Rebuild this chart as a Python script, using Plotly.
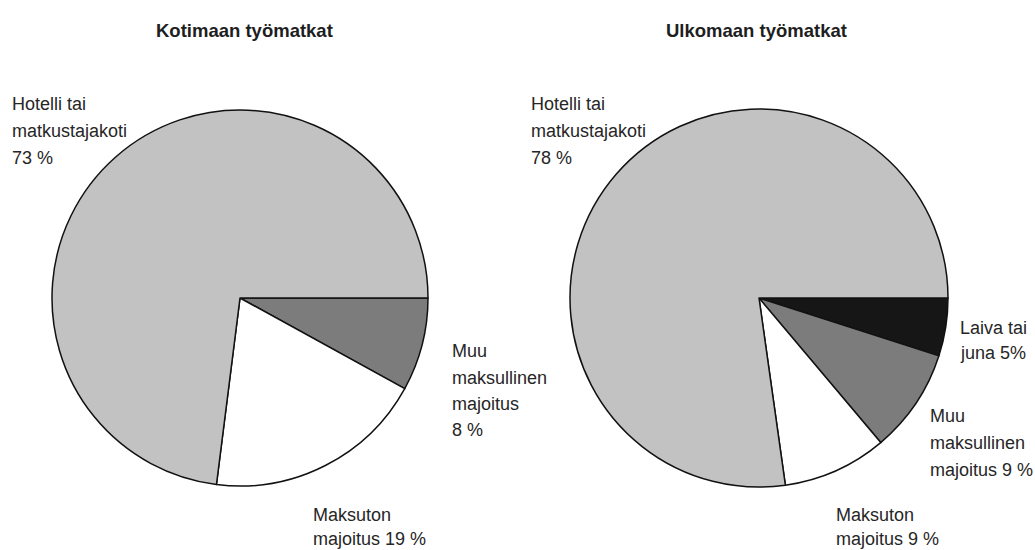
import plotly.graph_objects as go

W, H = 1035, 550

# Data
titles = ["Kotimaan työmatkat", "Ulkomaan työmatkat"]
dom_labels = ["Muu maksullinen majoitus", "Maksuton majoitus", "Hotelli tai matkustajakoti"]
dom_values = [8, 19, 73]
for_labels = ["Laiva tai juna", "Muu maksullinen majoitus", "Maksuton majoitus", "Hotelli tai matkustajakoti"]
for_values = [5, 9, 9, 78]
dom_texts = ["Muu<br>maksullinen<br>majoitus<br>8 %", "Maksuton<br>majoitus 19 %", "Hotelli tai<br>matkustajakoti<br>73 %"]
for_texts = ["Laiva tai<br>juna 5%", "Muu<br>maksullinen<br>majoitus 9 %", "Maksuton<br>majoitus 9 %", "Hotelli tai<br>matkustajakoti<br>78 %"]

dom_colors = ["#7c7c7c", "#ffffff", "#c2c2c2"]
for_colors = ["#161616", "#7c7c7c", "#ffffff", "#c2c2c2"]

LABEL_FONT = dict(family="Liberation Sans, Arial, sans-serif", size=18, color="#262626")
TITLE_FONT = dict(family="Liberation Sans, Arial, sans-serif", size=18.5, color="#1e1e1e")

def px_x(x):
    return x / W

def px_y(y):
    return 1 - y / H

fig = go.Figure()

# pie placement (pixels): center and radius
pies = [
    (dom_labels, dom_values, dom_colors, 240, 298, 188),
    (for_labels, for_values, for_colors, 759, 298, 189),
]
for labels, values, colors, cx, cy, r in pies:
    fig.add_trace(go.Pie(
        labels=labels, values=values, sort=False,
        direction="clockwise", rotation=90,
        marker=dict(colors=colors, line=dict(color="#111111", width=1.5)),
        textinfo="none", hoverinfo="label+percent",
        domain=dict(x=[px_x(cx - r), px_x(cx + r)], y=[px_y(cy + r), px_y(cy - r)]),
        showlegend=False,
    ))

annotations = []
# titles
for t, cx in zip(titles, [244, 756]):
    annotations.append(dict(text=f"<b>{t}</b>", x=px_x(cx), y=px_y(30), xref="paper", yref="paper",
                            xanchor="center", yanchor="middle", showarrow=False, font=TITLE_FONT))

# label positions: (left x, center y of each line)
dom_pos = [(451, [351, 378, 404, 430]), (312, [515, 539]), (11, [104, 131, 158])]
for_pos = [(959, [328, 353]), (929, [416, 443, 470]), (835, [515, 539]), (530, [104, 131, 158])]
for texts, pos in [(dom_texts, dom_pos), (for_texts, for_pos)]:
    for txt, (x, ys) in zip(texts, pos):
        for line, y in zip(txt.split("<br>"), ys):
            annotations.append(dict(text=line, x=px_x(x), y=px_y(y), xref="paper", yref="paper",
                                    xanchor="left", yanchor="middle", align="left", showarrow=False,
                                    borderpad=0, font=LABEL_FONT))

fig.update_layout(
    width=W, height=H, margin=dict(l=0, r=0, t=0, b=0),
    paper_bgcolor="white", plot_bgcolor="white",
    annotations=annotations,
)

fig.write_html("out.html", config={"displayModeBar": False},
               post_script="document.body.style.margin='0';document.body.style.padding='0';")
